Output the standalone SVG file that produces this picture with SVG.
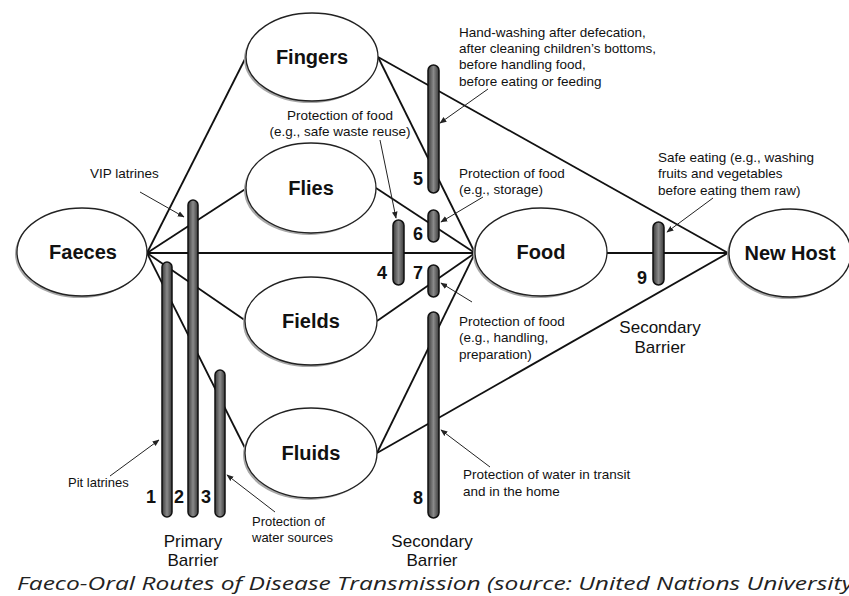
<svg xmlns="http://www.w3.org/2000/svg" width="849" height="596" viewBox="0 0 849 596">
<defs>
<marker id="ah" viewBox="0 0 10 10" refX="9" refY="5" markerWidth="7" markerHeight="7" orient="auto-start-reverse" markerUnits="userSpaceOnUse">
<path d="M0,1 L10,5 L0,9 z" fill="#222"/>
</marker>
<linearGradient id="barfill" x1="0" y1="0" x2="1" y2="0">
<stop offset="0" stop-color="#3a3a3a"/>
<stop offset="0.5" stop-color="#8a8a8a"/>
<stop offset="1" stop-color="#3a3a3a"/>
</linearGradient>
<style>
.node ellipse.shadow{fill:#a8a8a8;stroke:none}
.node ellipse.body{fill:#fff;stroke:#222;stroke-width:1.3}
.node text{font-family:"Liberation Sans",Arial,sans-serif;font-weight:bold;font-size:20px;fill:#111;text-anchor:middle}
.conn line{stroke:#111;stroke-width:1.8;fill:none}
.bar rect{fill:url(#barfill);stroke:#111;stroke-width:1.5}
.num{font-family:"Liberation Sans",Arial,sans-serif;font-weight:bold;font-size:18px;fill:#111}
.lbl{font-family:"Liberation Sans",Arial,sans-serif;font-size:13.5px;fill:#111}
.sm{font-size:13px}
.big{font-family:"Liberation Sans",Arial,sans-serif;font-size:17px;fill:#111;text-anchor:middle}
.ptr{stroke:#222;stroke-width:1;fill:none;marker-end:url(#ah)}
.cap{font-family:"Open Sans","Liberation Sans",sans-serif;font-style:italic;font-size:18px;fill:#222}
</style>
</defs>
<rect width="849" height="596" fill="#fff"/>

<g id="connectors" class="conn">
<line x1="147" y1="253" x2="246" y2="57"/>
<line x1="147" y1="253" x2="247" y2="188"/>
<line x1="147" y1="253" x2="475" y2="253"/>
<line x1="147" y1="253" x2="246" y2="321"/>
<line x1="147" y1="253" x2="247" y2="452"/>
<line x1="378" y1="57" x2="728" y2="253"/>
<line x1="378" y1="57" x2="475" y2="253"/>
<line x1="376" y1="188" x2="475" y2="253"/>
<line x1="377" y1="321" x2="475" y2="253"/>
<line x1="377" y1="453" x2="475" y2="253"/>
<line x1="377" y1="453" x2="728" y2="253"/>
<line x1="607" y1="253" x2="728" y2="253"/>
</g>

<g id="faeces" class="node"><ellipse class="shadow" cx="80" cy="254" rx="65" ry="44"/><ellipse class="body" cx="82" cy="252" rx="65" ry="44"/><text x="83" y="259">Faeces</text></g>
<g id="fingers" class="node"><ellipse class="shadow" cx="310" cy="59" rx="66" ry="44"/><ellipse class="body" cx="312" cy="57" rx="66" ry="44"/><text x="312" y="64">Fingers</text></g>
<g id="flies" class="node"><ellipse class="shadow" cx="309" cy="190" rx="65" ry="45"/><ellipse class="body" cx="311" cy="188" rx="65" ry="45"/><text x="311" y="195">Flies</text></g>
<g id="fields" class="node"><ellipse class="shadow" cx="309" cy="323" rx="66" ry="44"/><ellipse class="body" cx="311" cy="321" rx="66" ry="44"/><text x="311" y="328">Fields</text></g>
<g id="fluids" class="node"><ellipse class="shadow" cx="309" cy="455" rx="66" ry="45"/><ellipse class="body" cx="311" cy="453" rx="66" ry="45"/><text x="311" y="460">Fluids</text></g>
<g id="food" class="node"><ellipse class="shadow" cx="539" cy="254" rx="66" ry="44"/><ellipse class="body" cx="541" cy="252" rx="66" ry="44"/><text x="541" y="259">Food</text></g>
<g id="newhost" class="node"><ellipse class="shadow" cx="788" cy="255" rx="61" ry="44"/><ellipse class="body" cx="790" cy="253" rx="61" ry="44"/><text x="790" y="260">New Host</text></g>

<g id="barriers" class="bar">
<rect x="162" y="262" width="10" height="255" rx="5"/>
<rect x="188" y="200" width="10" height="317" rx="5"/>
<rect x="215" y="370" width="10" height="147" rx="5"/>
<rect x="393" y="220" width="11" height="65" rx="5.5"/>
<rect x="428" y="65" width="11" height="128" rx="5.5"/>
<rect x="428" y="210" width="11" height="32" rx="5.5"/>
<rect x="428" y="265" width="11" height="32" rx="5.5"/>
<rect x="428" y="312" width="11" height="206" rx="5.5"/>
<rect x="653" y="222" width="11" height="63" rx="5.5"/>
</g>

<g id="numbers" class="num">
<text x="146" y="503">1</text>
<text x="174" y="503">2</text>
<text x="201" y="503">3</text>
<text x="377" y="279">4</text>
<text x="413" y="185">5</text>
<text x="413" y="240">6</text>
<text x="413" y="279">7</text>
<text x="413" y="504">8</text>
<text x="637" y="284">9</text>
</g>

<g id="labels">
<text class="lbl" x="90" y="178">VIP latrines</text>
<line class="ptr" x1="140" y1="192" x2="184" y2="217"/>
<text class="lbl" x="340" y="120" text-anchor="middle">Protection of food</text>
<text class="lbl" x="340" y="136" text-anchor="middle">(e.g., safe waste reuse)</text>
<line class="ptr" x1="380" y1="140" x2="396" y2="218"/>
<text class="lbl" x="459" y="37">Hand-washing after defecation,</text>
<text class="lbl" x="459" y="53">after cleaning children’s bottoms,</text>
<text class="lbl" x="459" y="69">before handling food,</text>
<text class="lbl" x="459" y="86">before eating or feeding</text>
<line class="ptr" x1="488" y1="89" x2="440" y2="123"/>
<text class="lbl" x="459" y="178">Protection of food</text>
<text class="lbl" x="459" y="194">(e.g., storage)</text>
<line class="ptr" x1="483" y1="197" x2="441" y2="222"/>
<text class="lbl" x="658" y="162">Safe eating (e.g., washing</text>
<text class="lbl" x="658" y="178">fruits and vegetables</text>
<text class="lbl" x="658" y="195">before eating them raw)</text>
<line class="ptr" x1="713" y1="198" x2="667" y2="232"/>
<text class="lbl" x="459" y="326">Protection of food</text>
<text class="lbl" x="459" y="342">(e.g., handling,</text>
<text class="lbl" x="459" y="359">preparation)</text>
<line class="ptr" x1="472" y1="302" x2="441" y2="283"/>
<text class="big" x="660" y="333">Secondary</text>
<text class="big" x="660" y="353">Barrier</text>
<text class="lbl" x="463" y="479">Protection of water in transit</text>
<text class="lbl" x="463" y="496">and in the home</text>
<line class="ptr" x1="490" y1="467" x2="441" y2="430"/>
<text class="lbl sm" x="68" y="487">Pit latrines</text>
<line class="ptr" x1="110" y1="476" x2="159" y2="440"/>
<text class="lbl sm" x="252" y="526">Protection of</text>
<text class="lbl sm" x="252" y="542">water sources</text>
<line class="ptr" x1="275" y1="512" x2="227" y2="475"/>
<text class="big" x="193" y="547">Primary</text>
<text class="big" x="193" y="566">Barrier</text>
<text class="big" x="432" y="547">Secondary</text>
<text class="big" x="432" y="566">Barrier</text>
</g>

<text class="cap" x="17" y="590" textLength="836" lengthAdjust="spacingAndGlyphs">Faeco-Oral Routes of Disease Transmission (source: United Nations University</text>
</svg>
